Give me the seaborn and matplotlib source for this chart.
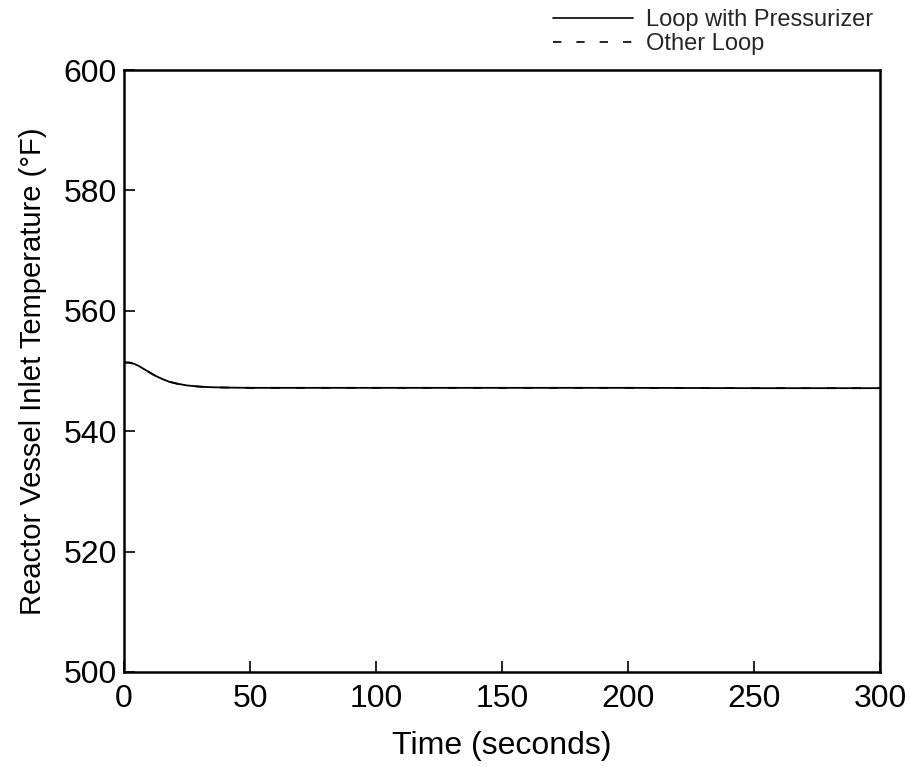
import matplotlib
matplotlib.use("Agg")
import matplotlib.pyplot as plt
import seaborn as sns
import pandas as pd
import numpy as np
from matplotlib.lines import Line2D

time_s = [0, 2, 4, 6, 8, 10, 12, 15, 18, 21, 25, 30, 35, 40, 50, 75, 100, 150, 200, 250, 300]
loop_with_pressurizer = [551.4, 551.4, 551.2, 550.8, 550.3, 549.8, 549.3, 548.7, 548.2, 547.9, 547.6, 547.4, 547.3, 547.25, 547.2, 547.2, 547.2, 547.2, 547.2, 547.15, 547.15]
other_loop = [551.4, 551.4, 551.2, 550.8, 550.3, 549.8, 549.3, 548.7, 548.2, 547.9, 547.6, 547.4, 547.3, 547.25, 547.2, 547.2, 547.2, 547.2, 547.2, 547.15, 547.15]
series_names = ["Loop with Pressurizer", "Other Loop"]
x_ticks = [0, 50, 100, 150, 200, 250, 300]
y_ticks = [500, 520, 540, 560, 580, 600]

sns.set_theme(style="white")
plt.rcParams['font.family'] = ['Liberation Sans', 'DejaVu Sans']

df = pd.DataFrame({
    "Time": time_s * 2,
    "Temp": loop_with_pressurizer + other_loop,
    "Series": [series_names[0]] * len(time_s) + [series_names[1]] * len(time_s),
})

fig = plt.figure(figsize=(9.12, 7.67), dpi=100)
ax = fig.add_axes([0.136, 0.1239, 0.829, 0.7848])
sns.lineplot(data=df, x="Time", y="Temp", hue="Series", style="Series",
             palette=["black", "black"], dashes=[(None, None), (5, 9)],
             linewidth=1.3, ax=ax, legend=False)

ax.set_xlim(0, 300)
ax.set_ylim(500, 600)
ax.set_xticks(x_ticks)
ax.set_yticks(y_ticks)
ax.tick_params(axis='both', direction='in', length=8, width=1.2, labelsize=23,
               top=False, right=False, bottom=True, left=True, colors='black')
ax.tick_params(axis='x', pad=9)
ax.tick_params(axis='y', pad=5)
for s in ax.spines.values():
    s.set_color('black')
    s.set_linewidth(1.8)
ax.set_xlabel("Time (seconds)", fontsize=23, labelpad=12, color='black')
ax.set_ylabel("Reactor Vessel Inlet Temperature (°F)", fontsize=21, labelpad=12, color='black')

handles = [Line2D([0], [0], color='black', lw=1.2),
           Line2D([0], [0], color='black', lw=1.2, dashes=(5, 9))]
fig.legend(handles, series_names, loc='upper left', bbox_to_anchor=(0.588, 1.01),
           frameon=False, fontsize=17, handlelength=3.4, handletextpad=0.55,
           labelspacing=0.1, borderpad=0.2)

fig.savefig("out.png", dpi=100)
